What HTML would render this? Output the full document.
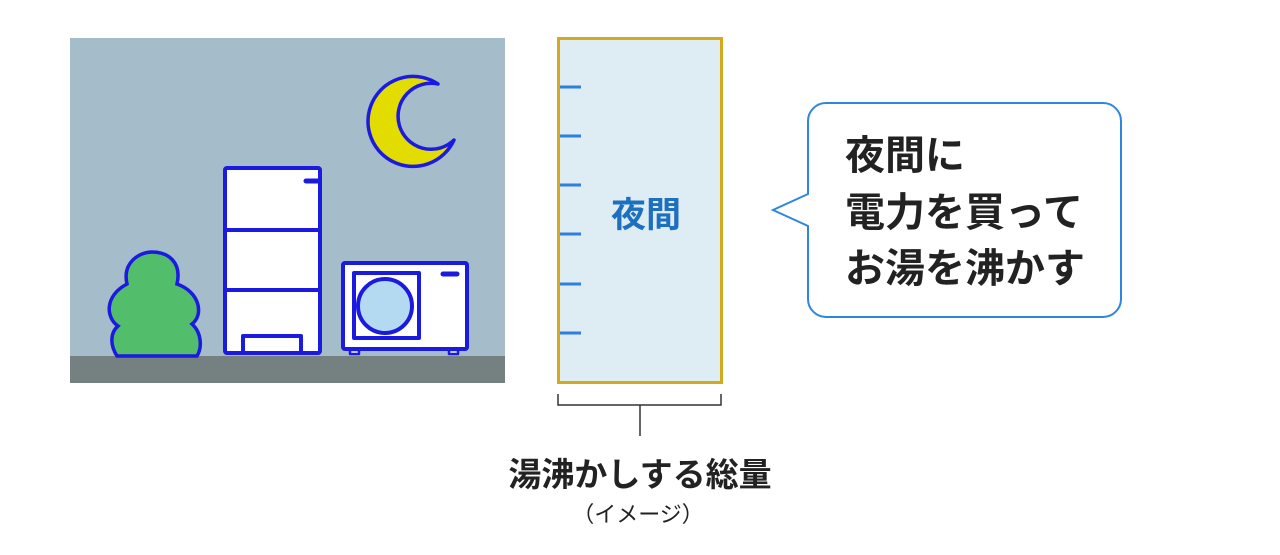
<!DOCTYPE html>
<html><head><meta charset="utf-8"><style>
html,body{margin:0;padding:0;background:#fff;width:1280px;height:555px;overflow:hidden}
svg{display:block}
text{font-family:"Liberation Sans","Noto Sans CJK JP",sans-serif}
</style></head><body>
<svg width="1280" height="555" viewBox="0 0 1280 555">
<rect x="70" y="38" width="435" height="345" fill="#a5bccb"/>
<rect x="70" y="356" width="435" height="27" fill="#758080"/>
<!-- moon -->
<path d="M438,84 A45,45 0 1 0 454,140 A33,33 0 1 1 438,84 Z" fill="#e2dc00" stroke="#1a1ae0" stroke-width="3.5" stroke-linejoin="round"/>
<!-- tree -->
<path d="M117,356 C110,345 110,333 118,326 C106,318 104,296 127,284 C122,262 140,252 152,252 C168,252 182,262 177,284 C200,292 204,315 192,324 C202,333 202,348 197,356 Z" fill="#52bd6a" stroke="#1a1ae0" stroke-width="3.5"/>
<!-- fridge -->
<g fill="#fff" stroke="#1a1ae0" stroke-width="4" stroke-linejoin="round">
<rect x="225" y="168" width="95" height="185" rx="2"/>
<line x1="225" y1="230" x2="320" y2="230"/>
<line x1="225" y1="290" x2="320" y2="290"/>
<rect x="243" y="336" width="58" height="17"/>
<line x1="306" y1="181" x2="318" y2="181" stroke-width="5" stroke-linecap="round"/>
</g>
<!-- AC -->
<g stroke="#1a1ae0" stroke-width="4" stroke-linejoin="round">
<rect x="343" y="263" width="124" height="86" rx="2" fill="#fff"/>
<rect x="354" y="273" width="65" height="65" fill="#fff"/>
<circle cx="385" cy="306" r="27" fill="#b3daf0"/>
<line x1="443" y1="274" x2="457" y2="274" stroke-width="5" stroke-linecap="round"/>
<rect x="350" y="350" width="9" height="4" fill="#fff" stroke-width="2.5"/>
<rect x="449" y="350" width="9" height="4" fill="#fff" stroke-width="2.5"/>
</g>
<!-- bar -->
<rect x="558.5" y="38.5" width="163" height="344" fill="#deedf4" stroke="#d4aa1a" stroke-width="3"/>
<g stroke="#2f80dd" stroke-width="3">
<line x1="560" y1="87" x2="581" y2="87"/><line x1="560" y1="136" x2="581" y2="136"/>
<line x1="560" y1="185" x2="581" y2="185"/><line x1="560" y1="234" x2="581" y2="234"/>
<line x1="560" y1="284" x2="581" y2="284"/><line x1="560" y1="333" x2="581" y2="333"/>
</g>
<text x="646" y="227" font-size="35" font-weight="bold" fill="#1d6fc0" text-anchor="middle">夜間</text>
<!-- bracket -->
<path d="M558,394 V405 H721 V394 M640,405 V436" fill="none" stroke="#333" stroke-width="1.5"/>
<text x="640" y="486" font-size="33" font-weight="bold" fill="#222" text-anchor="middle">湯沸かしする総量</text>
<text x="638" y="522" font-size="22" fill="#222" text-anchor="middle">（イメージ）</text>
<!-- bubble -->
<path d="M826,103 H1103 A18,18 0 0 1 1121,121 V299 A18,18 0 0 1 1103,317 H826 A18,18 0 0 1 808,299 V226 L773,210 L808,194 V121 A18,18 0 0 1 826,103 Z" fill="#fff" stroke="#2f86e0" stroke-width="2"/>
<g font-size="40" font-weight="bold" fill="#222">
<text x="845" y="169">夜間に</text>
<text x="845" y="226">電力を買って</text>
<text x="845" y="282">お湯を沸かす</text>
</g>
</svg>
</body></html>
